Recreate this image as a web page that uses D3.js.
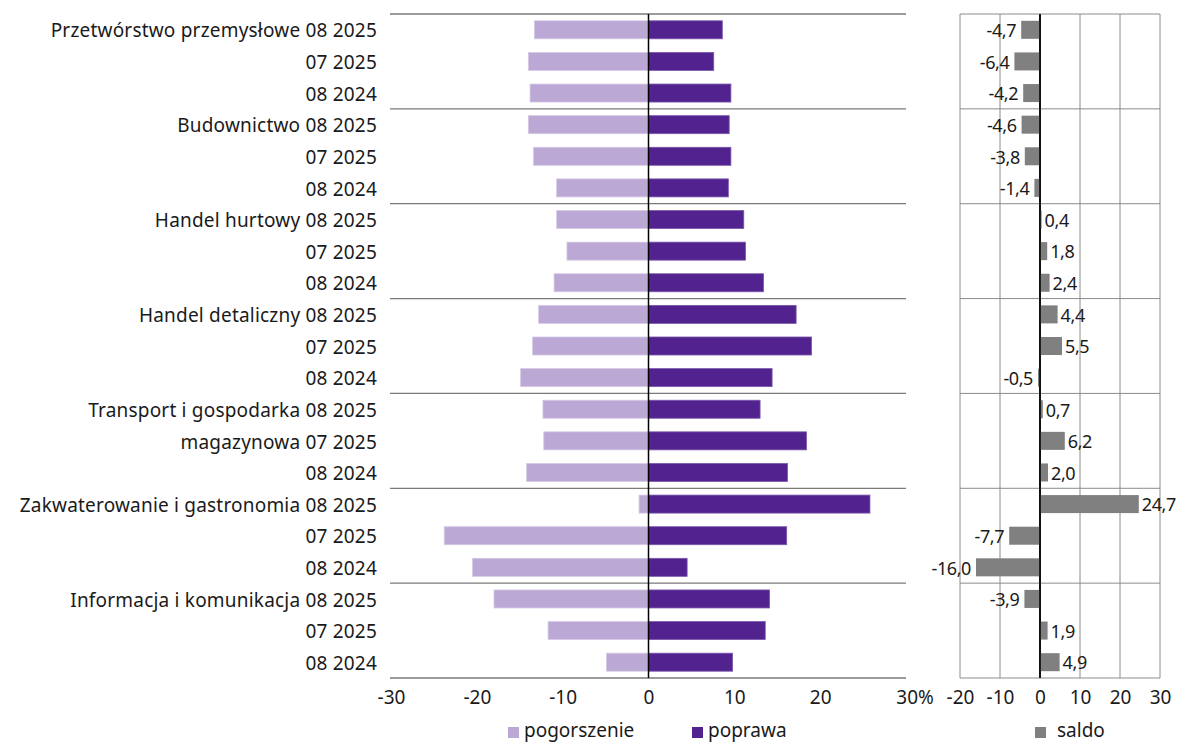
<!DOCTYPE html>
<html>
<head>
<meta charset="utf-8">
<script src="https://cdn.jsdelivr.net/npm/d3@7"></script>
<style>
  body { margin: 0; background: #fff; }
  svg text { font-family: "Noto Sans", sans-serif; fill: #1a1a1a; }
</style>
</head>
<body>
<div id="chart"></div>
<script>
var rowLabels = [
  "Przetwórstwo przemysłowe 08 2025", "07 2025", "08 2024",
  "Budownictwo 08 2025", "07 2025", "08 2024",
  "Handel hurtowy 08 2025", "07 2025", "08 2024",
  "Handel detaliczny 08 2025", "07 2025", "08 2024",
  "Transport i gospodarka 08 2025", "magazynowa 07 2025", "08 2024",
  "Zakwaterowanie i gastronomia 08 2025", "07 2025", "08 2024",
  "Informacja i komunikacja 08 2025", "07 2025", "08 2024"
];
var pogorszenie = [13.3, 14.0, 13.8, 14.0, 13.4, 10.7, 10.7, 9.5, 11.0, 12.8, 13.5, 14.9,
  12.3, 12.2, 14.2, 1.1, 23.8, 20.5, 18.0, 11.7, 4.9];
var poprawa = [8.6, 7.6, 9.6, 9.4, 9.6, 9.3, 11.1, 11.3, 13.4, 17.2, 19.0, 14.4,
  13.0, 18.4, 16.2, 25.8, 16.1, 4.5, 14.1, 13.6, 9.8];
var saldo = [-4.7, -6.4, -4.2, -4.6, -3.8, -1.4, 0.4, 1.8, 2.4, 4.4, 5.5, -0.5,
  0.7, 6.2, 2.0, 24.7, -7.7, -16.0, -3.9, 1.9, 4.9];
var leftTicks = [-30, -20, -10, 0, 10, 20, 30];
var rightTicks = [-20, -10, 0, 10, 20, 30];

var W = 1178, H = 742;
var top_ = 14, bottom_ = 678;
var fs = '19px';
var cLight = '#bba8d5', cDark = '#52238f', cGrey = '#808080';

var svg = d3.select('#chart').append('svg').attr('width', W).attr('height', H);

var idx = d3.range(rowLabels.length);
var y = d3.scaleBand().domain(idx).range([top_, bottom_]).paddingInner(0.43).paddingOuter(0.215);
var edge = d3.scaleLinear().domain([0, rowLabels.length]).range([top_, bottom_]);
var xL = d3.scaleLinear().domain([-30, 30]).range([391, 906]);
var xR = d3.scaleLinear().domain([-20, 30]).range([960, 1160]);

function comma(v) { return v.toFixed(1).replace('.', ','); }

// row labels
svg.append('g').selectAll('text').data(rowLabels).enter().append('text')
  .attr('x', 377)
  .attr('y', function(d, i) { return y(i) + y.bandwidth() / 2 + 1; })
  .attr('dy', '0.35em')
  .attr('text-anchor', 'end')
  .style('font-size', fs)
  .style('letter-spacing', '0.2px')
  .text(function(d) { return d; });

// left panel group lines
var groups = d3.range(0, rowLabels.length + 1, 3);
svg.append('g').selectAll('line').data(groups).enter().append('line')
  .attr('x1', 390).attr('x2', 906)
  .attr('y1', function(d) { return edge(d); }).attr('y2', function(d) { return edge(d); })
  .attr('stroke', '#7a7a7a').attr('stroke-width', 1.3);

// pogorszenie (negative side)
svg.append('g').selectAll('rect').data(pogorszenie).enter().append('rect')
  .attr('x', function(d) { return xL(-d); })
  .attr('y', function(d, i) { return y(i); })
  .attr('width', function(d) { return xL(0) - xL(-d); })
  .attr('height', y.bandwidth())
  .attr('fill', cLight).attr('stroke', '#d6cae6').attr('stroke-width', 0.8);

// poprawa
svg.append('g').selectAll('rect').data(poprawa).enter().append('rect')
  .attr('x', xL(0))
  .attr('y', function(d, i) { return y(i); })
  .attr('width', function(d) { return xL(d) - xL(0); })
  .attr('height', y.bandwidth())
  .attr('fill', cDark).attr('stroke', '#7a58ab').attr('stroke-width', 0.8);

svg.append('line').attr('x1', xL(0)).attr('x2', xL(0)).attr('y1', top_).attr('y2', bottom_)
  .attr('stroke', '#000').attr('stroke-width', 1.5);

var axL = svg.append('g').attr('transform', 'translate(0,' + bottom_ + ')')
  .call(d3.axisBottom(xL).tickValues(leftTicks).tickSize(0).tickPadding(13)
    .tickFormat(function(d) { return d === 30 ? '30%' : String(d); }));
axL.select('.domain').remove();
axL.selectAll('text').style('font-size', fs).style('font-family', '"Noto Sans", sans-serif').attr('fill', '#1a1a1a');
axL.selectAll('text').filter(function(d) { return d === 30; }).attr('dx', '0.45em');

// right panel
var grid = svg.append('g');
grid.selectAll('line').data(rightTicks).enter().append('line')
  .attr('x1', function(d) { return xR(d); }).attr('x2', function(d) { return xR(d); })
  .attr('y1', top_).attr('y2', bottom_)
  .attr('stroke', function(d) { return d === 0 ? '#000' : '#8c8c8c'; })
  .attr('stroke-width', function(d) { return d === 0 ? 1.5 : 1; });
svg.append('g').selectAll('line').data(groups).enter().append('line')
  .attr('x1', xR(-20)).attr('x2', xR(30))
  .attr('y1', function(d) { return edge(d); }).attr('y2', function(d) { return edge(d); })
  .attr('stroke', '#8c8c8c').attr('stroke-width', 1);

svg.append('g').selectAll('rect').data(saldo).enter().append('rect')
  .attr('x', function(d) { return xR(Math.min(0, d)); })
  .attr('y', function(d, i) { return y(i); })
  .attr('width', function(d) { return Math.abs(xR(d) - xR(0)); })
  .attr('height', y.bandwidth())
  .attr('fill', cGrey);
svg.append('line').attr('x1', xR(0)).attr('x2', xR(0)).attr('y1', top_).attr('y2', bottom_)
  .attr('stroke', '#000').attr('stroke-width', 1.5);

svg.append('g').selectAll('text').data(saldo).enter().append('text')
  .attr('x', function(d) { return d < 0 ? xR(d) - 5 : xR(d) + 3; })
  .attr('y', function(d, i) { return y(i) + y.bandwidth() / 2 + 1; })
  .attr('dy', '0.35em')
  .attr('text-anchor', function(d) { return d < 0 ? 'end' : 'start'; })
  .style('font-size', '18px')
  .style('letter-spacing', '-0.4px')
  .text(comma);

var axR = svg.append('g').attr('transform', 'translate(0,' + bottom_ + ')')
  .call(d3.axisBottom(xR).tickValues(rightTicks).tickSize(0).tickPadding(13)
    .tickFormat(function(d) { return String(d); }));
axR.select('.domain').remove();
axR.selectAll('text').style('font-size', fs).style('font-family', '"Noto Sans", sans-serif').attr('fill', '#1a1a1a');

// legend
var legend = [
  { name: 'pogorszenie', color: cLight, x: 508 },
  { name: 'poprawa', color: cDark, x: 692 },
  { name: 'saldo', color: cGrey, x: 1035 }
];
var lg = svg.append('g').selectAll('g').data(legend).enter().append('g')
  .attr('transform', function(d) { return 'translate(' + d.x + ',727)'; });
lg.append('rect').attr('width', 11).attr('height', 11).attr('fill', function(d) { return d.color; });
lg.append('text').attr('x', function(d) { return d.name === 'saldo' ? 22 : 16; }).attr('y', 10)
  .style('font-size', fs).text(function(d) { return d.name; });
</script>
</body>
</html>
